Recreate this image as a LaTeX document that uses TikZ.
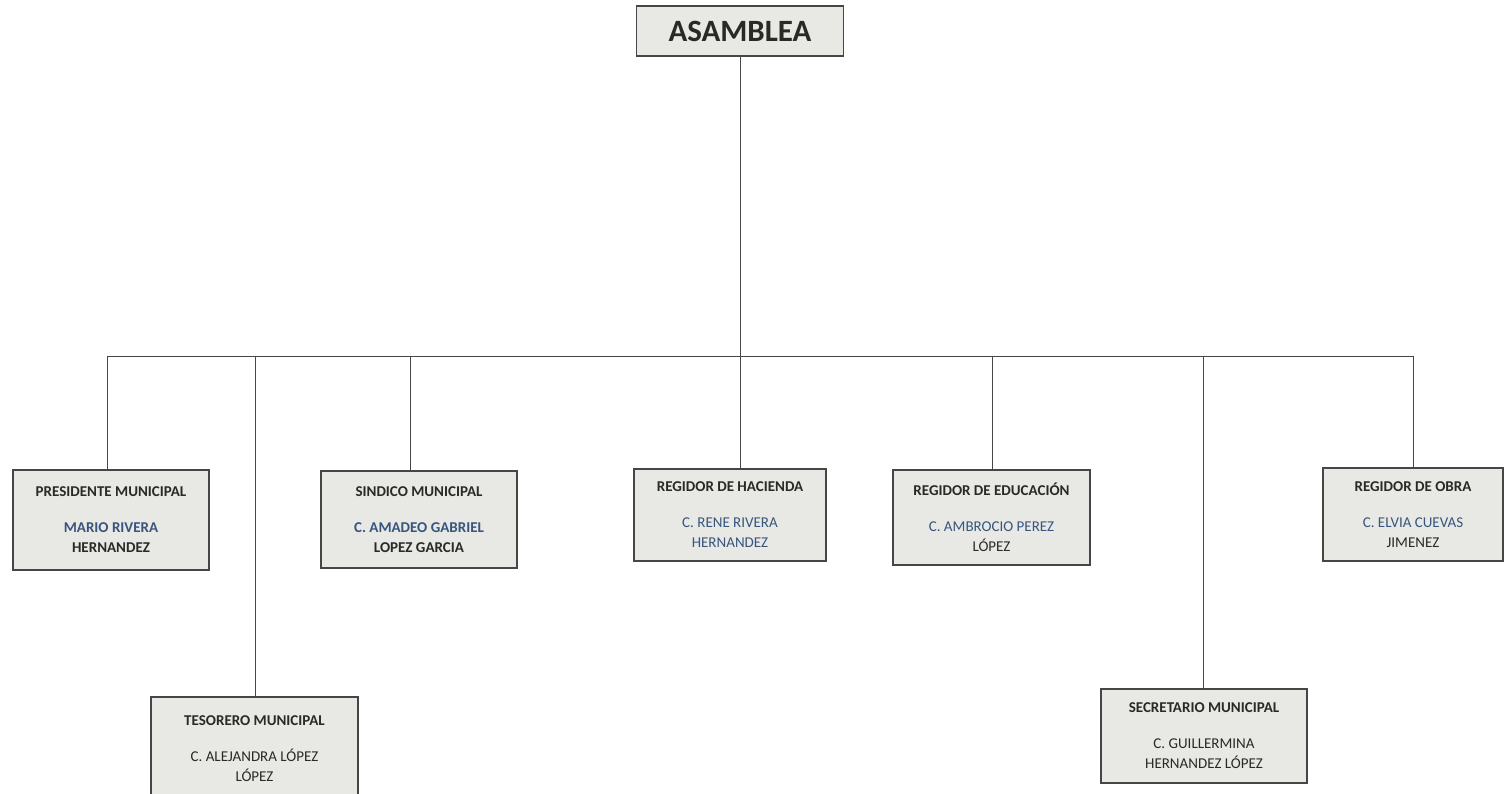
\documentclass[tikz,border=0pt]{standalone}
\usepackage{fontspec}
\usepackage{xcolor}
\setmainfont{Carlito}
\usetikzlibrary{positioning}

\definecolor{boxfill}{RGB}{232,233,229}
\definecolor{boxline}{RGB}{70,70,70}
\definecolor{txtdark}{RGB}{40,42,40}
\definecolor{txtblue}{RGB}{55,85,125}
\newcommand{\nombre}[1]{\textcolor{txtblue}{#1}}

\begin{document}
\begin{tikzpicture}[x=1pt,y=-1pt,line width=1pt,draw=boxline,
                cargo/.style={rectangle,draw=boxline,line width=1.2pt,fill=boxfill,
                  text=txtdark,align=center,inner sep=0pt,
                  font=\fontsize{15}{20}\selectfont}]
  \useasboundingbox (0,0) rectangle (1510,794);

  \node[cargo,minimum width=207pt,minimum height=50pt,
        font=\fontsize{31}{34}\bfseries] (asamblea) at (740,31) {ASAMBLEA};

  \node[cargo,minimum width=196pt,minimum height=100pt] (presidente) at (111,520)
    {\textbf{PRESIDENTE MUNICIPAL}\\[16pt]\textbf{\nombre{MARIO RIVERA}}\\\textbf{HERNANDEZ}};
  \node[cargo,minimum width=207pt,minimum height=104pt] (tesorero) at (254.5,749)
    {\textbf{TESORERO MUNICIPAL}\\[16pt]C. ALEJANDRA LÓPEZ\\LÓPEZ};
  \node[cargo,minimum width=196pt,minimum height=97pt] (sindico) at (419,519.5)
    {\textbf{SINDICO MUNICIPAL}\\[16pt]\textbf{\nombre{C. AMADEO GABRIEL}}\\\textbf{LOPEZ GARCIA}};
  \node[cargo,minimum width=192pt,minimum height=92pt] (hacienda) at (730,515)
    {\textbf{REGIDOR DE HACIENDA}\\[16pt]\nombre{C. RENE RIVERA}\\\nombre{HERNANDEZ}};
  \node[cargo,minimum width=197pt,minimum height=95pt] (educacion) at (991.5,517.5)
    {\textbf{REGIDOR DE EDUCACIÓN}\\[16pt]\nombre{C. AMBROCIO PEREZ}\\LÓPEZ};
  \node[cargo,minimum width=180pt,minimum height=93pt] (obra) at (1413,514.5)
    {\textbf{REGIDOR DE OBRA}\\[16pt]\nombre{C. ELVIA CUEVAS}\\JIMENEZ};
  \node[cargo,minimum width=206pt,minimum height=94pt] (secretario) at (1204,736)
    {\textbf{SECRETARIO MUNICIPAL}\\[16pt]C. GUILLERMINA\\HERNANDEZ LÓPEZ};

  \coordinate (bus) at (740,356);

  \draw (asamblea.south) -- (bus);
  \draw (107,0 |- bus) -- (1413,0 |- bus);
  \foreach \n/\x in {presidente/107,tesorero/255,sindico/410,hacienda/740,
                     educacion/992,obra/1413,secretario/1203}
    \draw (\x,0 |- bus) -- (\x,0 |- \n.north);
\end{tikzpicture}
\end{document}
